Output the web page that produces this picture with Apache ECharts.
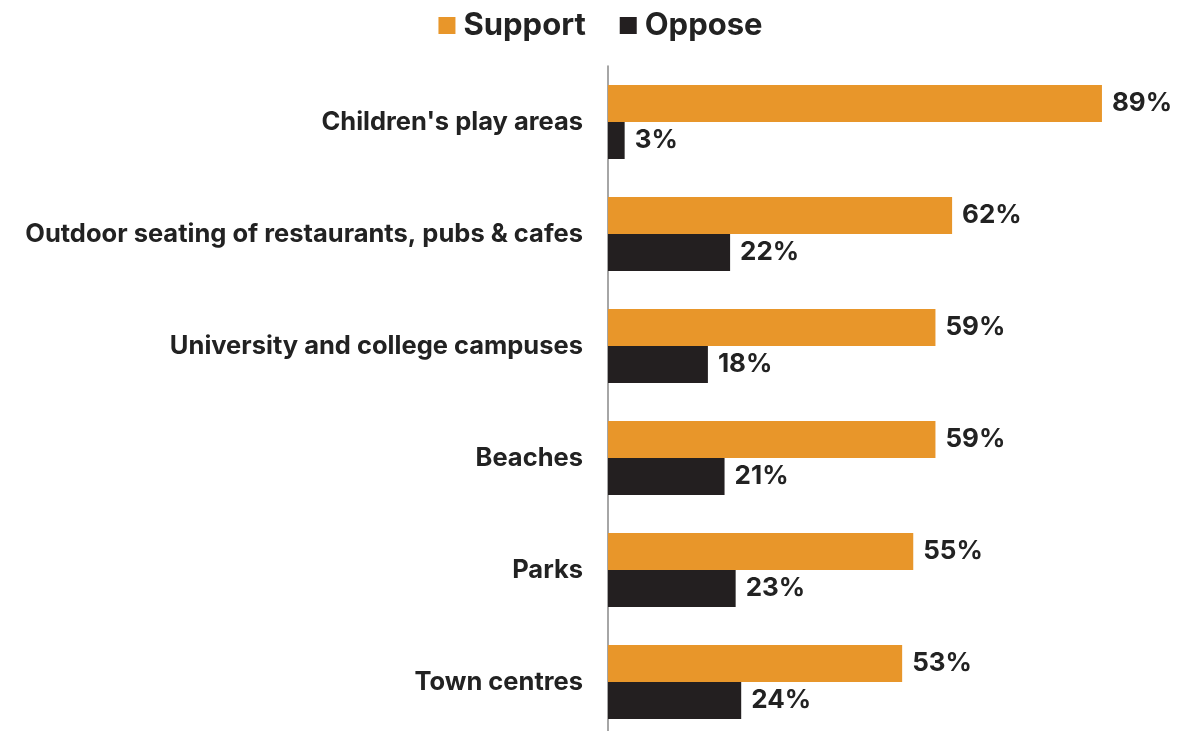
<!DOCTYPE html>
<html>
<head>
<meta charset="utf-8">
<script src="https://cdn.jsdelivr.net/npm/echarts@6/dist/echarts.min.js"></script>
<style>html,body{margin:0;padding:0;background:#fff;overflow:hidden;}#chart{width:1201px;height:745px;}</style>
</head>
<body>
<div id="chart"></div>
<script>
const categories = ["Children's play areas", "Outdoor seating of restaurants, pubs & cafes", "University and college campuses", "Beaches", "Parks", "Town centres"];
const support = [89, 62, 59, 59, 55, 53];
const oppose = [3, 22, 18, 21, 23, 24];

const chart = echarts.init(document.getElementById('chart'));
const fontFamily = 'Inter, Roboto, "Noto Sans", sans-serif';
const labelStyle = {
  show: true, position: 'right', distance: 10,
  formatter: '{c}%', color: '#222', fontSize: 26, fontWeight: 'bold', fontFamily: fontFamily
};
chart.setOption({
  animation: false,
  legend: {
    top: 5, left: 'center', itemWidth: 17, itemHeight: 17, itemGap: 34,
    icon: 'rect',
    textStyle: { fontSize: 31, fontWeight: 'bold', color: '#222', fontFamily: fontFamily, padding: [0, 0, 0, 3] },
    data: ['Support', 'Oppose']
  },
  grid: { left: 608, right: 38, top: 66, height: 672, containLabel: false },
  xAxis: { type: 'value', min: 0, max: 100, show: false, splitLine: { show: false } },
  yAxis: {
    type: 'category', data: categories, inverse: true,
    axisLine: { show: true, lineStyle: { color: '#888', width: 1.5 } },
    axisTick: { show: false },
    axisLabel: { margin: 25, color: '#222', fontSize: 25.5, fontWeight: 'bold', fontFamily: fontFamily }
  },
  series: [
    { name: 'Support', type: 'bar', data: support, barWidth: 37, barGap: '0%', itemStyle: { color: '#E8962A' }, label: labelStyle },
    { name: 'Oppose', type: 'bar', data: oppose, barWidth: 37, barGap: '0%', itemStyle: { color: '#231F20' }, label: labelStyle }
  ]
});
</script>
</body>
</html>
